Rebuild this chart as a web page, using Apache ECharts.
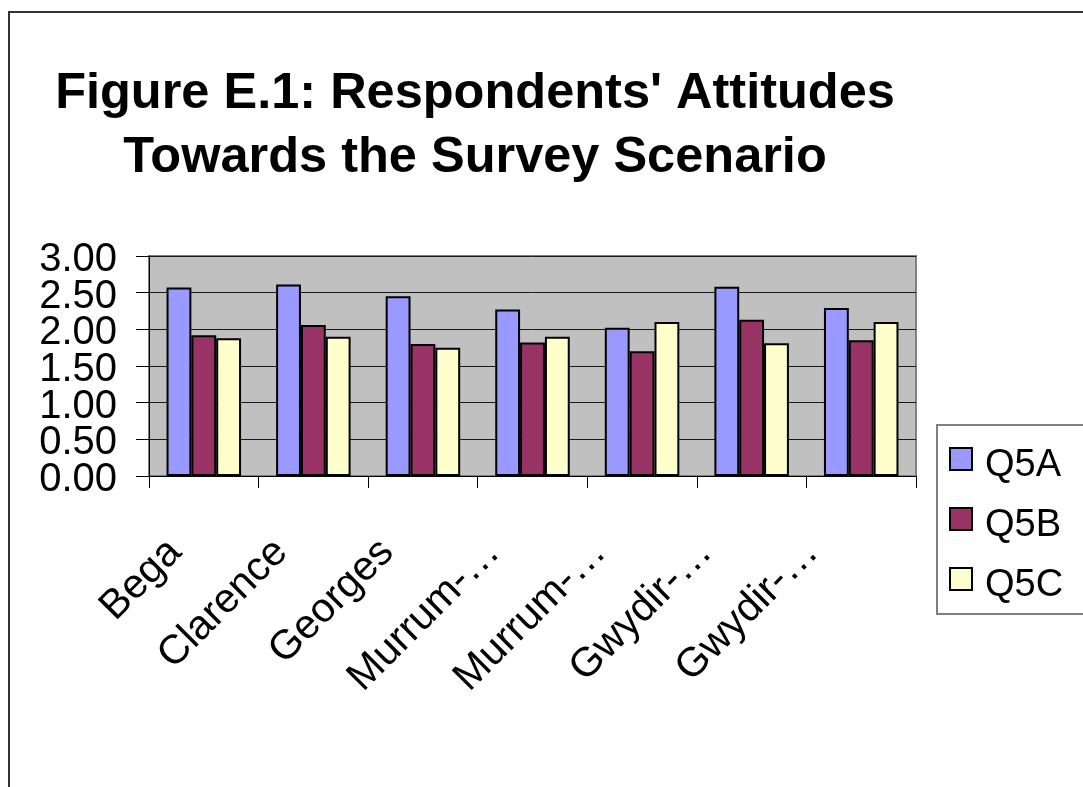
<!DOCTYPE html>
<html>
<head>
<meta charset="utf-8">
<script src="https://cdn.jsdelivr.net/npm/echarts@6/dist/echarts.min.js"></script>
<style>
  html, body { margin: 0; padding: 0; background: #ffffff; }
  #chart { width: 1083px; height: 787px; }
</style>
</head>
<body>
<div id="chart"></div>
<script>
// Catchment names (as truncated on the axis) and mean attitude scores per question
const categories = ['Bega', 'Clarence', 'Georges', 'Murrum-…', 'Murrum-…', 'Gwydir-…', 'Gwydir-…'];
const seriesNames = ['Q5A', 'Q5B', 'Q5C'];
const q5a = [2.57, 2.61, 2.45, 2.27, 2.02, 2.58, 2.29];
const q5b = [1.92, 2.06, 1.80, 1.82, 1.70, 2.13, 1.85];
const q5c = [1.88, 1.90, 1.75, 1.90, 2.10, 1.81, 2.10];
const yMin = 0, yMax = 3, yStep = 0.5;

const colors = ['#9999ff', '#993366', '#ffffcc'];
const values = [q5a, q5b, q5c];
const FONT = '"Liberation Sans", Arial, sans-serif';

const chart = echarts.init(document.getElementById('chart'), null, { renderer: 'canvas' });

// The tick labels are taller than the tick spacing, so whole-number labels and
// half-step labels live on two coincident value axes to keep every one visible.
const isHalfStep = v => Math.round(v / yStep) % 2 === 1;
function yLabelAxis(showHalf, withLine) {
  return {
    type: 'value',
    gridIndex: 0,
    position: 'left',
    min: yMin,
    max: yMax,
    interval: yStep,
    axisLine: { show: withLine, lineStyle: { color: '#000000', width: 1 } },
    axisTick: { show: true, length: 13, lineStyle: { color: '#000000', width: 1 } },
    splitLine: { show: withLine, lineStyle: { color: '#1a1a1a', width: 1 } },
    axisLabel: {
      margin: 32,
      showMinLabel: !showHalf,
      showMaxLabel: !showHalf,
      hideOverlap: false,
      color: '#000000',
      formatter: v => (isHalfStep(v) === showHalf ? '{n|' + v.toFixed(2) + '}' : ''),
      rich: {
        n: {
          fontFamily: FONT,
          fontSize: 40,
          lineHeight: 20,
          padding: [8, 0, 0, 0],
          color: '#000000'
        }
      }
    }
  };
}

const option = {
  backgroundColor: '#ffffff',
  animation: false,
  title: {
    text: "Figure E.1: Respondents' Attitudes\nTowards the Survey Scenario",
    left: 470,
    top: 57,
    textAlign: 'center',
    textStyle: {
      fontFamily: FONT,
      fontWeight: 'bold',
      fontSize: 50.5,
      lineHeight: 64,
      color: '#000000'
    }
  },
  legend: {
    data: seriesNames,
    orient: 'vertical',
    left: 937,
    top: 425,
    padding: [8, 80, 9, 12],
    itemWidth: 22,
    itemHeight: 22,
    itemGap: 8,
    icon: 'rect',
    borderColor: '#808080',
    borderWidth: 2,
    itemStyle: { borderColor: '#000000', borderWidth: 2 },
    formatter: name => '{t|' + name + '}',
    textStyle: {
      fontFamily: FONT,
      fontSize: 38,
      color: '#000000',
      rich: {
        t: {
          fontFamily: FONT,
          fontSize: 38,
          lineHeight: 38,
          color: '#000000',
          padding: [14, 0, 0, 8]
        }
      }
    }
  },
  grid: [
    {
      left: 149, top: 256, width: 767, height: 220,
      show: true,
      backgroundColor: '#c0c0c0',
      borderColor: '#808080',
      borderWidth: 2
    },
    // label strip for the rotated category names
    { left: 122, top: 256, width: 743, height: 220, show: false }
  ],
  xAxis: [
    {
      type: 'category',
      gridIndex: 0,
      data: categories,
      axisLine: { show: true, lineStyle: { color: '#000000', width: 1 } },
      axisTick: { show: true, length: 12, lineStyle: { color: '#000000', width: 1 } },
      axisLabel: { show: false },
      splitLine: { show: false }
    },
    {
      type: 'category',
      gridIndex: 1,
      data: categories,
      axisLine: { show: false },
      axisTick: { show: false },
      splitLine: { show: false },
      axisLabel: {
        show: true,
        interval: 0,
        rotate: 45,
        margin: 70,
        fontFamily: FONT,
        fontSize: 41,
        color: '#000000'
      }
    }
  ],
  yAxis: [
    yLabelAxis(false, true),
    yLabelAxis(true, false),
    { type: 'value', gridIndex: 1, show: false, min: 0, max: 1 }
  ],
  series: seriesNames.map((name, i) => ({
    name: name,
    type: 'bar',
    xAxisIndex: 0,
    yAxisIndex: 0,
    data: values[i],
    barGap: '0%',
    barCategoryGap: '32%',
    itemStyle: { color: colors[i], borderColor: '#000000', borderWidth: 2 }
  })),
  graphic: [
    {
      type: 'rect',
      silent: true,
      z: 100,
      shape: { x: 9, y: 12, width: 1100, height: 800 },
      style: { fill: 'none', stroke: '#333333', lineWidth: 2 }
    }
  ]
};

chart.setOption(option);
</script>
</body>
</html>
